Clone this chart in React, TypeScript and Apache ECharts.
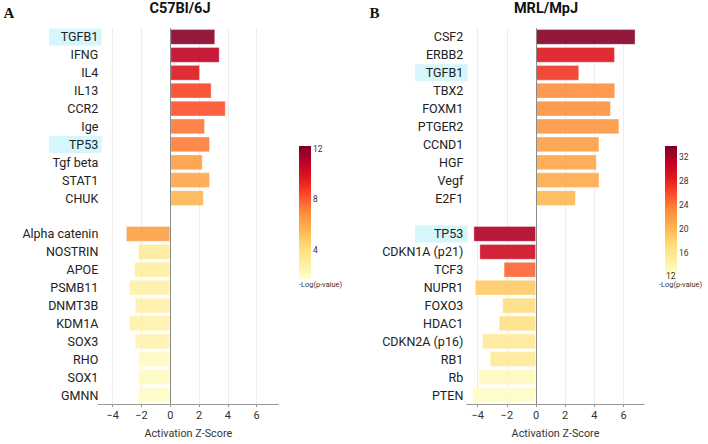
import React, { useEffect, useRef } from 'react';
import * as echarts from 'echarts';

// ---------- data ----------
const c57Genes = ['TGFB1', 'IFNG', 'IL4', 'IL13', 'CCR2', 'Ige', 'TP53', 'Tgf beta', 'STAT1', 'CHUK', '', 'Alpha catenin', 'NOSTRIN', 'APOE', 'PSMB11', 'DNMT3B', 'KDM1A', 'SOX3', 'RHO', 'SOX1', 'GMNN'];
const c57Z = [3.12, 3.43, 2.06, 2.87, 3.85, 2.41, 2.76, 2.25, 2.76, 2.33, null, -3.08, -2.24, -2.5, -2.87, -2.47, -2.87, -2.47, -2.24, -2.24, -2.24];
const c57LogP = [12, 10.8, 9.8, 8.5, 8.2, 7.4, 7.3, 6.4, 6.1, 5.5, null, 6.3, 3.2, 3.0, 2.8, 2.8, 2.7, 2.6, 2.0, 2.0, 1.9];

const mrlGenes = ['CSF2', 'ERBB2', 'TGFB1', 'TBX2', 'FOXM1', 'PTGER2', 'CCND1', 'HGF', 'Vegf', 'E2F1', '', 'TP53', 'CDKN1A (p21)', 'TCF3', 'NUPR1', 'FOXO3', 'HDAC1', 'CDKN2A (p16)', 'RB1', 'Rb', 'PTEN'];
const mrlZ = [6.82, 5.41, 2.96, 5.43, 5.13, 5.71, 4.34, 4.16, 4.35, 2.73, null, -4.29, -3.88, -2.22, -4.19, -2.31, -2.55, -3.7, -3.17, -3.97, -4.37];
const mrlLogP = [33.5, 28.9, 27, 23, 22.8, 22.3, 21.8, 21.3, 21, 20.1, null, 31.7, 30, 24.8, 18.8, 17.1, 16.8, 15.6, 15.6, 13.3, 12.8];

const highlighted = ['TGFB1', 'TP53'];
const xTicks = [-4, -2, 0, 2, 4, 6];
const c57ColorTicks = [4, 8, 12];
const mrlColorTicks = [12, 16, 20, 24, 28, 32];
const c57Range = [1.7, 12.2];
const mrlRange = [12.4, 33.8];
const titles = ['C57Bl/6J', 'MRL/MpJ'];
const letters = ['A', 'B'];

const palette = ['#ffffcc', '#ffeda0', '#fed976', '#feb24c', '#fd8d3c', '#fc4e2a', '#e31a1c', '#bd0026', '#800026'];

const FONT = 'Roboto, "Noto Sans", sans-serif';
const LABEL_SIZE = 12.5;

function measure(text: string): number {
  const c = document.createElement('canvas').getContext('2d');
  if (!c) return text.length * 7;
  c.font = `${LABEL_SIZE}px Roboto`;
  return c.measureText(text).width;
}

export default function App() {
  const ref = useRef<HTMLDivElement>(null);
  useEffect(() => {
    if (!ref.current) return;
    const chart = echarts.init(ref.current, null, { renderer: 'svg' });

    const panels = [
      { genes: c57Genes, z: c57Z, p: c57LogP, left: 98.3, width: 180, min: -5, max: 7.5, padR: 3.4, margin: -3.4, boxW: 52.7, range: c57Range, cticks: c57ColorTicks, cbx: 299, cbh: 133 },
      { genes: mrlGenes, z: mrlZ, p: mrlLogP, left: 466.7, width: 177.6, min: -4.75, max: 7.42, padR: 4.4, margin: -1, boxW: 52.7, range: mrlRange, cticks: mrlColorTicks, cbx: 665, cbh: 129 },
    ];
    const top = 28;
    const height = 380;
    const cbTop = 146;

    const grids: any[] = [];
    const xAxes: any[] = [];
    const yAxes: any[] = [];
    const series: any[] = [];
    const visualMaps: any[] = [];
    const graphics: any[] = [];

    panels.forEach((pn, i) => {
      grids.push({ left: pn.left, top, width: pn.width, height, containLabel: false });
      xAxes.push({
        type: 'value',
        gridIndex: i,
        min: pn.min,
        max: pn.max,
        name: 'Activation Z-Score',
        nameLocation: 'middle',
        nameGap: 24,
        nameTextStyle: { fontSize: 10.8, color: '#333', fontFamily: FONT },
        axisLine: { show: true, lineStyle: { color: '#999', width: 1 } },
        axisTick: { show: true, length: 3, customValues: xTicks, lineStyle: { color: '#999' } },
        axisLabel: {
          customValues: xTicks,
          fontSize: 11,
          color: '#333',
          fontFamily: FONT,
          margin: 6,
          formatter: (v: number) => (v < 0 ? '\u2212' + Math.abs(v) : String(v)),
        },
        splitLine: { show: true, lineStyle: { color: '#ececec', width: 1 } },
      });
      const rich: any = {
        n: { fontSize: LABEL_SIZE, color: '#222', fontFamily: FONT, padding: [2, pn.padR, 2, 0], lineHeight: 12 },
      };
      highlighted.forEach((g, k) => {
        const w = measure(g);
        rich['h' + k] = {
          fontSize: LABEL_SIZE,
          color: '#222',
          fontFamily: FONT,
          backgroundColor: '#d5f6fa',
          lineHeight: 12,
          padding: [2, pn.padR, 2, Math.max(0, pn.boxW - pn.padR - w)],
        };
      });
      yAxes.push({
        type: 'category',
        gridIndex: i,
        data: pn.genes,
        inverse: true,
        axisLine: { show: false },
        axisTick: { show: false },
        splitLine: { show: false },
        axisLabel: {
          margin: pn.margin,
          interval: 0,
          formatter: (v: string) => {
            const k = highlighted.indexOf(v);
            return k >= 0 ? `{h${k}|${v}}` : `{n|${v}}`;
          },
          rich,
        },
      });
      const data: any[] = [];
      pn.genes.forEach((g, j) => {
        if (pn.z[j] != null) data.push([pn.z[j], g, pn.p[j]]);
      });
      series.push({
        type: 'bar',
        xAxisIndex: i,
        yAxisIndex: i,
        data,
        encode: { x: 0, y: 1 },
        barCategoryGap: '12%',
        itemStyle: { opacity: 0.9, borderColor: 'rgba(255,255,255,0.35)', borderWidth: 1 },
        markLine: {
          silent: true,
          symbol: ['none', 'none'],
          label: { show: false },
          lineStyle: { color: '#8a8a8a', type: 'solid', width: 1 },
          data: [{ xAxis: 0 }],
        },
      });
      visualMaps.push({
        type: 'continuous',
        show: false,
        seriesIndex: i,
        dimension: 2,
        min: pn.range[0],
        max: pn.range[1],
        inRange: { color: palette },
      });

      // colour bar (top = max colour)
      const n = palette.length;
      const stops = palette.map((_, k) => ({ offset: k / (n - 1), color: palette[n - 1 - k] }));
      graphics.push({
        type: 'rect',
        shape: { x: pn.cbx, y: cbTop, width: 12, height: pn.cbh },
        style: { fill: new echarts.graphic.LinearGradient(0, 0, 0, 1, stops) },
        silent: true,
      });
      const bottom = cbTop + pn.cbh;
      pn.cticks.forEach((t) => {
        const y = bottom - ((t - pn.range[0]) / (pn.range[1] - pn.range[0])) * pn.cbh;
        const below = y > bottom - 3;
        graphics.push({
          type: 'text',
          x: below ? pn.cbx + 1 : pn.cbx + 14,
          y: below ? y - 1.5 : y,
          style: { text: String(t), fontSize: 8.5, fill: '#333', fontFamily: FONT, textVerticalAlign: 'middle' },
          silent: true,
        });
      });
      graphics.push({
        type: 'text',
        x: pn.cbx - (i === 0 ? 0 : 6),
        y: 284.5,
        style: { text: '-Log(p-value)', fontSize: 7.4, fill: '#333', fontFamily: FONT, textVerticalAlign: 'middle' },
        silent: true,
      });
      // titles
      graphics.push({
        type: 'text',
        x: i === 0 ? 180 : 546,
        y: 8.5,
        style: { text: titles[i], fontSize: 14.5, fontWeight: 'bold', fill: '#111', fontFamily: FONT, textAlign: 'center', textVerticalAlign: 'middle' },
        silent: true,
      });
      graphics.push({
        type: 'text',
        x: i === 0 ? 9 : 374.5,
        y: 13,
        style: { text: letters[i], fontSize: 15, fontWeight: 'bold', fill: '#111', fontFamily: '"Liberation Serif", "DejaVu Serif", serif', textAlign: 'center', textVerticalAlign: 'middle' },
        silent: true,
      });
    });

    chart.setOption({
      animation: false,
      backgroundColor: '#ffffff',
      grid: grids,
      xAxis: xAxes,
      yAxis: yAxes,
      series,
      visualMap: visualMaps,
      graphic: graphics,
    });
    return () => chart.dispose();
  }, []);

  return <div ref={ref} style={{ position: 'fixed', left: 0, top: 0, width: 708, height: 444, background: '#fff' }} />;
}
